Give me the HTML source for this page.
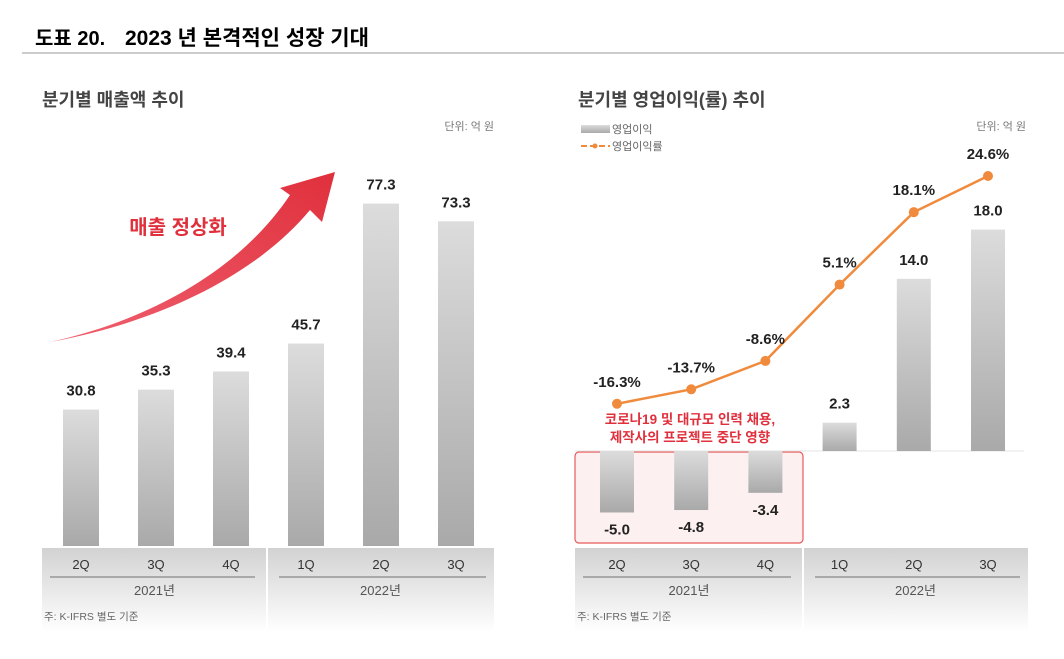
<!DOCTYPE html>
<html><head><meta charset="utf-8">
<style>
body{margin:0;background:#fff;width:1064px;height:654px;overflow:hidden;font-family:"Liberation Sans","Noto Sans CJK KR",sans-serif;}
svg text{font-family:"Liberation Sans","Noto Sans CJK KR",sans-serif;}
</style></head>
<body>
<svg id="s" width="1064" height="654" viewBox="0 0 1064 654" xmlns="http://www.w3.org/2000/svg">
<defs>
<linearGradient id="bar" x1="0" y1="0" x2="0" y2="1"><stop offset="0" stop-color="#dcdcdc"/><stop offset="1" stop-color="#a9a9a9"/></linearGradient>
<linearGradient id="strip" x1="0" y1="0" x2="0" y2="1"><stop offset="0" stop-color="#d2d2d2"/><stop offset="1" stop-color="#ffffff"/></linearGradient>
<linearGradient id="arrow" x1="0" y1="1" x2="1" y2="0"><stop offset="0" stop-color="#f06070"/><stop offset="1" stop-color="#e0303c"/></linearGradient>
</defs>
<text x="35" y="45" font-size="20" font-weight="bold" fill="#000">도표 20.</text>
<text x="125" y="45" font-size="21" font-weight="bold" fill="#000">2023 년 본격적인 성장 기대</text>
<line x1="22" y1="53" x2="1064" y2="53" stroke="#999" stroke-width="1"/>

<text x="42" y="106" font-size="18" font-weight="bold" fill="#444">분기별 매출액 추이</text>
<text x="494" y="130" font-size="11" fill="#777" text-anchor="end">단위: 억 원</text>
<path d="M50 342 C150 320 240 270 290 195 L280 188 L335 172 L322 222 L310 210 C260 270 170 320 50 342 Z" fill="url(#arrow)"/>
<text x="178" y="234" font-size="20" font-weight="bold" fill="#e0303c" text-anchor="middle">매출 정상화</text>

<text x="578" y="106" font-size="18" font-weight="bold" fill="#444">분기별 영업이익(률) 추이</text>
<text x="1026" y="130" font-size="11" fill="#777" text-anchor="end">단위: 억 원</text>
<g>
<rect x="581" y="125" width="29" height="8" fill="url(#bar)"/>
<text x="612" y="133" font-size="11" fill="#666">영업이익</text></g>
<g>
<line x1="581" y1="146" x2="610" y2="146" stroke="#f08a3c" stroke-width="2" stroke-dasharray="6 3"/>
<circle cx="595" cy="146" r="2.5" fill="#f08a3c"/>
<text x="612" y="150" font-size="11" fill="#666">영업이익률</text></g>

<rect x="575" y="452" width="228" height="91" rx="4" fill="#fdf0f0" stroke="#e85a5a" stroke-width="1.2"/>
<text x="690" y="424" font-size="13.5" font-weight="bold" fill="#e0303c" text-anchor="middle">코로나19 및 대규모 인력 채용,</text>
<text x="690" y="442" font-size="13.5" font-weight="bold" fill="#e0303c" text-anchor="middle">제작사의 프로젝트 중단 영향</text>

<g id="left"></g><g id="right"></g>
</svg>
<script>
const categories=["2Q","3Q","4Q","1Q","2Q","3Q"];
const years=["2021년","2022년"];
const revenue=[30.8,35.3,39.4,45.7,77.3,73.3];
const opProfit=[-5.0,-4.8,-3.4,2.3,14.0,18.0];
const opMargin=[-16.3,-13.7,-8.6,5.1,18.1,24.6];
const NS="http://www.w3.org/2000/svg";
function mk(p,tag,a,txt){const e=document.createElementNS(NS,tag);for(const k in a)e.setAttribute(k,a[k]);if(txt!==undefined)e.textContent=txt;p.appendChild(e);return e;}
const L=document.getElementById('left'),R=document.getElementById('right');
// left axes
const lx=i=>81+i*75, ly=v=>546-v*4.43;
// right axes
const rx=i=>617+i*74.2, ry=v=>451-v*12.3, rm=v=>313-v*5.57;

function strip(g,x0,x1,xm,xf,name){
  const s=mk(g,'rect',{x:x0,y:548,width:x1-x0,height:84,fill:'url(#strip)'});
  
  
  mk(g,'line',{x1:xm,y1:548,x2:xm,y2:632,stroke:'#fff','stroke-width':2});
  mk(g,'line',{x1:x0+8,y1:577,x2:xm-12,y2:577,stroke:'#888','stroke-width':1.2});
  mk(g,'line',{x1:xm+12,y1:577,x2:x1-8,y2:577,stroke:'#888','stroke-width':1.2});
  years.forEach((y,k)=>{
    const t=mk(g,'text',{x:k==0?(x0+xm)/2:(xm+x1)/2,y:595,'font-size':13,fill:'#555','text-anchor':'middle'},y);
    
    
  });
  const n=mk(g,'text',{x:x0+2,y:620,'font-size':10.5,fill:'#666'},'주: K-IFRS 별도 기준');
  
  
}
strip(L,42,494,267);
strip(R,575,1028,803);
// re-label strip names
L.querySelector('rect');
R.querySelector('rect');

categories.forEach((c,i)=>{
  const t=mk(L,'text',{x:lx(i),y:569,'font-size':13,fill:'#333','text-anchor':'middle'},c);
  
  
  const t2=mk(R,'text',{x:rx(i),y:569,'font-size':13,fill:'#333','text-anchor':'middle'},c);
  
  
});
revenue.forEach((v,i)=>{
  const b=mk(L,'rect',{x:lx(i)-18,y:ly(v),width:36,height:546-ly(v),fill:'url(#bar)'});
  
  
  const t=mk(L,'text',{x:lx(i),y:ly(v)-14,'font-size':15,'font-weight':'bold',fill:'#222','text-anchor':'middle'},v.toFixed(1));
  
  
});
mk(R,'line',{x1:575,y1:451,x2:1024,y2:451,stroke:'#e4e4e4','stroke-width':1});
opProfit.forEach((v,i)=>{
  const y0=Math.min(ry(v),451),h=Math.abs(ry(v)-451);
  const b=mk(R,'rect',{x:rx(i)-17,y:y0,width:34,height:h,fill:'url(#bar)'});
  
  
  const ty=v>=0?ry(v)-14:ry(v)+22;
  const t=mk(R,'text',{x:rx(i),y:ty,'font-size':15,'font-weight':'bold',fill:'#222','text-anchor':'middle'},v.toFixed(1));
  
  
});
const pts=opMargin.map((v,i)=>rx(i)+','+rm(v)).join(' ');
const pl=mk(R,'polyline',{points:pts,fill:'none',stroke:'#f08a3c','stroke-width':2.5});


opMargin.forEach((v,i)=>{
  const c=mk(R,'circle',{cx:rx(i),cy:rm(v),r:5,fill:'#f08a3c'});
  
  
  const t=mk(R,'text',{x:rx(i),y:rm(v)-17,'font-size':15,'font-weight':'bold',fill:'#222','text-anchor':'middle'},v.toFixed(1)+'%');
  
  
});
</script>
</body></html>
